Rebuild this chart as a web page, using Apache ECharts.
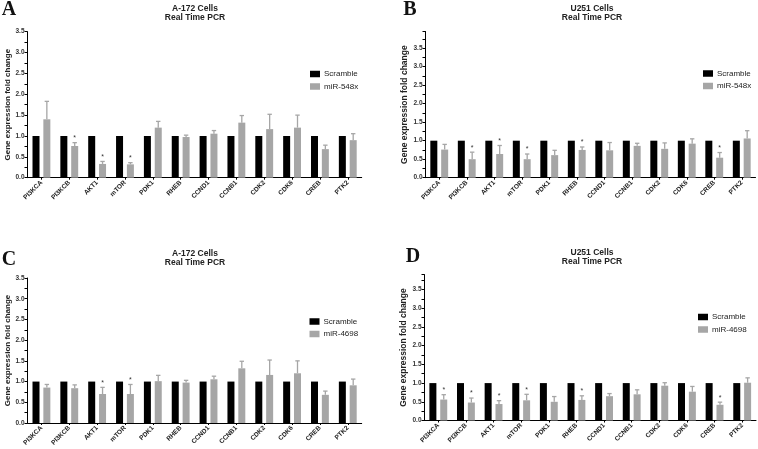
<!DOCTYPE html>
<html>
<head>
<meta charset="utf-8">
<script src="https://cdn.jsdelivr.net/npm/echarts@6/dist/echarts.min.js"></script>
<style>
  html, body { margin: 0; padding: 0; background: #fff; }
  #chart { width: 758px; height: 449px; }
</style>
</head>
<body>
<div id="chart"></div>
<script>
// genes on the x axis (same for all four panels)
const genes = ['PI3KCA', 'PI3KCB', 'AKT1', 'mTOR', 'PDK1', 'RHEB', 'CCND1', 'CCNB1', 'CDK2', 'CDK6', 'CREB', 'PTK2']
const scramble = [1, 1, 1, 1, 1, 1, 1, 1, 1, 1, 1, 1]

// A: A-172, miR-548x
const meanA = [1.40, 0.76, 0.33, 0.32, 1.20, 0.975, 1.055, 1.32, 1.165, 1.20, 0.685, 0.90]
const errA = [0.43, 0.08, 0.06, 0.04, 0.15, 0.045, 0.075, 0.17, 0.355, 0.30, 0.095, 0.155]
const sigA = [0, 1, 1, 1, 0, 0, 0, 0, 0, 0, 0, 0]

// B: U251, miR-548x
const meanB = [0.76, 0.50, 0.64, 0.50, 0.61, 0.75, 0.74, 0.86, 0.78, 0.92, 0.54, 1.06]
const errB = [0.14, 0.19, 0.23, 0.14, 0.13, 0.08, 0.21, 0.07, 0.16, 0.13, 0.14, 0.21]
const sigB = [0, 1, 1, 1, 0, 1, 0, 0, 0, 0, 1, 0]

// C: A-172, miR-4698
const meanC = [0.855, 0.84, 0.70, 0.70, 1.01, 0.975, 1.055, 1.32, 1.16, 1.20, 0.68, 0.91]
const errC = [0.075, 0.08, 0.16, 0.23, 0.14, 0.055, 0.075, 0.17, 0.36, 0.30, 0.09, 0.15]
const sigC = [0, 0, 1, 1, 0, 0, 0, 0, 0, 0, 0, 0]

// D: U251, miR-4698
const meanD = [0.56, 0.48, 0.44, 0.54, 0.50, 0.55, 0.65, 0.70, 0.93, 0.77, 0.42, 1.01]
const errD = [0.13, 0.12, 0.09, 0.16, 0.14, 0.11, 0.07, 0.12, 0.08, 0.14, 0.07, 0.13]
const sigD = [1, 1, 1, 1, 0, 1, 0, 0, 0, 0, 1, 0]

const FONT = '"Liberation Sans", Arial, sans-serif'
const BAR_W = 7
const GAP = 0.55
const GRAY = '#a6a6a6'

// panel layout
const panels = [
  { letter: 'A', cells: 'A-172 Cells', mir: 'miR-548x', mean: meanA, err: errA, sig: sigA, max: 3.5,
    grid: { left: 27.5, top: 31.7, width: 334.2, height: 146 }, nameGap: 8.5, nameSize: 8,
    lx: 9, ly: 0, tx: 195, ty: 4.5, legX: 310, legY: 70 },
  { letter: 'B', cells: 'U251 Cells', mir: 'miR-548x', mean: meanB, err: errB, sig: sigB, max: 3.95,
    grid: { left: 425.5, top: 31.5, width: 330, height: 146.2 }, nameGap: 14, nameSize: 8.5,
    lx: 410, ly: 0, tx: 592, ty: 4.5, legX: 703, legY: 69.5 },
  { letter: 'C', cells: 'A-172 Cells', mir: 'miR-4698', mean: meanC, err: errC, sig: sigC, max: 3.5,
    grid: { left: 27.5, top: 278, width: 334.2, height: 145 }, nameGap: 8.5, nameSize: 8,
    lx: 9, ly: 250, tx: 195, ty: 249.5, legX: 309.5, legY: 317.5 },
  { letter: 'D', cells: 'U251 Cells', mir: 'miR-4698', mean: meanD, err: errD, sig: sigD, max: 3.9,
    grid: { left: 424.5, top: 274.6, width: 331.5, height: 145.9 }, nameGap: 13, nameSize: 8.5,
    lx: 413, ly: 247, tx: 592, ty: 248.5, legX: 698, legY: 313 }
]

// 误差线 + 星号
function errRender(params, api) {
  const i = api.value(0)
  const m = api.value(1)
  const e = api.value(2)
  const s = api.value(3)
  const base = api.coord([i, m])
  const top = api.coord([i, m + e])
  const x = base[0] + (BAR_W + BAR_W * GAP) / 2
  const children = [
    { type: 'line', shape: { x1: x, y1: base[1], x2: x, y2: top[1] }, style: { stroke: GRAY, lineWidth: 1.3 } },
    { type: 'line', shape: { x1: x - 2.2, y1: top[1], x2: x + 2.2, y2: top[1] }, style: { stroke: GRAY, lineWidth: 1.3 } }
  ]
  if (s) {
    children.push({
      type: 'text',
      style: { text: '*', x: x, y: top[1] - 1, align: 'center', verticalAlign: 'bottom', fontSize: 7, fontFamily: FONT, fill: '#333' }
    })
  }
  return { type: 'group', children }
}

const option = {
  animation: false,
  backgroundColor: '#fff',
  title: [],
  legend: [],
  grid: [],
  xAxis: [],
  yAxis: [],
  series: []
}

panels.forEach((p, k) => {
  option.title.push({
    text: p.letter, left: p.lx, top: p.ly, textAlign: 'center', padding: 0,
    textStyle: { fontFamily: '"Liberation Serif", "Times New Roman", serif', fontWeight: 'bold', fontSize: 20, color: '#111' }
  })
  option.title.push({
    text: p.cells + '\nReal Time PCR', left: p.tx, top: p.ty, textAlign: 'center', padding: 0,
    textStyle: { fontFamily: FONT, fontWeight: 'bold', fontSize: 8.5, lineHeight: 9, color: '#222' }
  })
  option.legend.push({
    data: ['Scramble', p.mir], orient: 'vertical', left: p.legX, top: p.legY, padding: 0,
    icon: 'rect', itemWidth: 10, itemHeight: 6.5, itemGap: 4.5, selectedMode: false,
    textStyle: { fontFamily: FONT, fontSize: 8, lineHeight: 8, color: '#222', padding: [0, 0, 0, -1] }
  })
  option.grid.push(Object.assign({ containLabel: false }, p.grid))
  option.xAxis.push({
    type: 'category', gridIndex: k, data: genes,
    axisLine: { lineStyle: { color: '#000', width: 1 } },
    axisTick: { show: true, alignWithLabel: true, length: 2, lineStyle: { color: '#000' } },
    axisLabel: { rotate: 45, fontSize: 6.5, fontWeight: 'bold', fontFamily: FONT, color: '#222', margin: 4, interval: 0 }
  })
  option.yAxis.push({
    type: 'value', gridIndex: k, min: 0, max: p.max, interval: 0.5,
    name: 'Gene expression fold change', nameLocation: 'middle', nameGap: p.nameGap, nameRotate: 90,
    nameTextStyle: { fontFamily: FONT, fontWeight: 'bold', fontSize: p.nameSize, color: '#222' },
    axisLine: { show: true, lineStyle: { color: '#000', width: 1 } },
    axisTick: { show: true, length: 3, lineStyle: { color: '#000' } },
    minorTick: { show: true, splitNumber: 2, length: 3, lineStyle: { color: '#000' } },
    splitLine: { show: false },
    axisLabel: {
      fontSize: 6.5, fontWeight: 'bold', fontFamily: FONT, color: '#333', margin: 3, showMaxLabel: p.max === 3.5,
      formatter: v => (Math.abs(v * 2 - Math.round(v * 2)) < 1e-6 ? v.toFixed(1) : '')
    }
  })
  option.series.push({
    name: 'Scramble', type: 'bar', xAxisIndex: k, yAxisIndex: k,
    data: scramble, barWidth: BAR_W, barGap: GAP * 100 + '%', itemStyle: { color: '#000' }
  })
  option.series.push({
    name: p.mir, type: 'bar', xAxisIndex: k, yAxisIndex: k,
    data: p.mean, barWidth: BAR_W, barGap: GAP * 100 + '%', itemStyle: { color: GRAY }
  })
  option.series.push({
    type: 'custom', xAxisIndex: k, yAxisIndex: k, z: 5, silent: true,
    renderItem: errRender,
    data: p.mean.map((m, i) => [i, m, p.err[i], p.sig[i]])
  })
})

const chart = echarts.init(document.getElementById('chart'), null, { renderer: 'canvas' })
chart.setOption(option)
</script>
</body>
</html>
